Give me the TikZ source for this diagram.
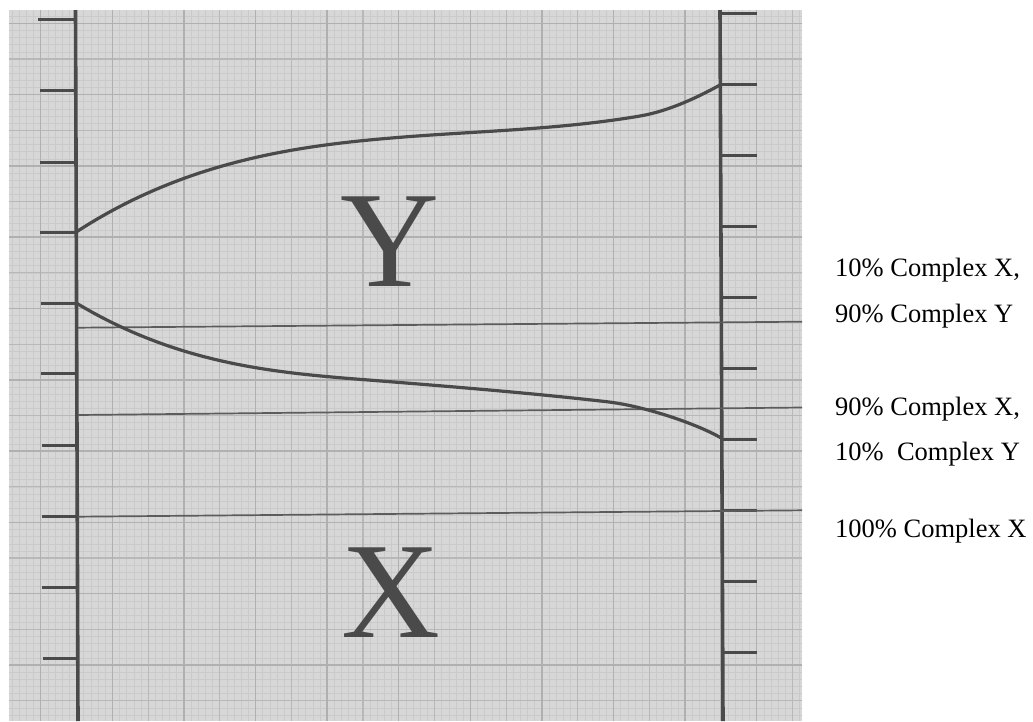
\documentclass[tikz,border=0pt]{standalone}
\usepackage{fontspec}
\setmainfont{Liberation Serif}
\definecolor{paper}{HTML}{D7D7D7}
\definecolor{fineln}{HTML}{CACACA}
\definecolor{midln}{HTML}{B8B8B8}
\definecolor{majln}{HTML}{B0B0B0}
\definecolor{ink}{HTML}{4A4A4A}
\begin{document}
\begin{tikzpicture}[x=1pt,y=-1pt,
  fine/.style={fineln,line width=0.5pt},
  midgrid/.style={midln,line width=1.2pt},
  majgrid/.style={majln,line width=1.5pt},
  axisline/.style={ink,line width=3.6pt},
  tickmark/.style={ink,line width=3pt},
  curveline/.style={ink,line width=3.2pt,line cap=round},
  hline/.style={ink!90,line width=1.7pt},
  bigletter/.style={text=ink,font=\fontsize{137}{140}\selectfont,inner sep=0pt,anchor=base},
  sidetext/.style={font=\fontsize{26.5}{30}\selectfont,inner sep=0pt,anchor=base west}]
\useasboundingbox (0,0) rectangle (1033,721);
\fill[white] (0,0) rectangle (1033,721);
\fill[paper] (9,10) rectangle (802,721);
\begin{scope}
  \clip (9,10) rectangle (802,721);
  \foreach \i in {-5,...,107} \draw[fine] ({40.7+7.16*\i},10) -- ({40.7+7.16*\i},721);
  \foreach \i in {-2,...,98} \draw[fine] (9,{23.3+7.13*\i}) -- (802,{23.3+7.13*\i});
  \foreach \i in {-1,...,22} \draw[midgrid] ({40.7+35.8*\i},10) -- ({40.7+35.8*\i},721);
  \foreach \i in {-1,...,20} \draw[midgrid] (9,{23.3+35.65*\i}) -- (802,{23.3+35.65*\i});
  \foreach \i in {0,...,11} \draw[majgrid] ({40.7+71.6*\i},10) -- ({40.7+71.6*\i},721);
  \foreach \i in {0,...,10} \draw[majgrid] (9,{23.3+71.3*\i}) -- (802,{23.3+71.3*\i});
\end{scope}
% axes
\coordinate (LT) at (75.5,10);
\coordinate (LB) at (78,721);
\coordinate (RT) at (720,10);
\coordinate (RB) at (723,721);
\draw[axisline] (LT) -- (LB);
\draw[axisline] (RT) -- (RB);
% left ticks
\foreach \y/\x in {19/38,90/40,162.3/40,232.7/40,303.7/41,373.7/41,445/42,516.7/42,587.7/42,658.3/43}
  \draw[tickmark] (\x,\y) -- ({76+2*\y/721},\y);
% right ticks
\foreach \y in {13.3,84.3,155.7,226,297.3,368.3,439.3,510.7,581.7,652.3}
  \draw[tickmark] ({720+3*\y/721},\y) -- (757,\y);
% level lines
\coordinate (A1) at (78,327.7); \coordinate (B1) at (802,321.7);
\coordinate (A2) at (78,415);   \coordinate (B2) at (802,407.5);
\coordinate (A3) at (78,516.7); \coordinate (B3) at (802,510.3);
\draw[hline] (A1) -- (B1);
\draw[hline] (A2) -- (B2);
\draw[hline] (A3) -- (B3);
% upper curve
\coordinate (U0) at (76.7,231.7);
\coordinate (U1) at (400,137.3);
\coordinate (U2) at (640,116);
\coordinate (U3) at (720,85);
\draw[curveline] (U0) .. controls (186.7,160.2) and (300,145.3) .. (U1)
  .. controls (480,130.9) and (560,129.6) .. (U2)
  .. controls (670,110.9) and (700,96) .. (U3);
% lower curve
\coordinate (D0) at (76.7,303.3);
\coordinate (D1) at (390,381.7);
\coordinate (D2) at (606.7,401.7);
\coordinate (D3) at (721.7,438.3);
\draw[curveline] (D0) .. controls (186.7,369.3) and (290,373.7) .. (D1)
  .. controls (462,387.5) and (535,393.5) .. (D2)
  .. controls (646.7,406.3) and (700,425.3) .. (D3);
% big letters
\node[bigletter] (Y) at (390,286) {Y};
\node[bigletter] (X) at (391,637.3) {X};
% side texts
\node[sidetext] (t1) at (835,276.5) {10\% Complex X,};
\node[sidetext] (t2) at (835,322.5) {90\% Complex Y};
\node[sidetext] (t3) at (835,415) {90\% Complex X,};
\node[sidetext] (t4) at (835,460.5) {10\%\ \ Complex Y};
\node[sidetext] (t5) at (835,537) {100\% Complex X};
\end{tikzpicture}
\end{document}
